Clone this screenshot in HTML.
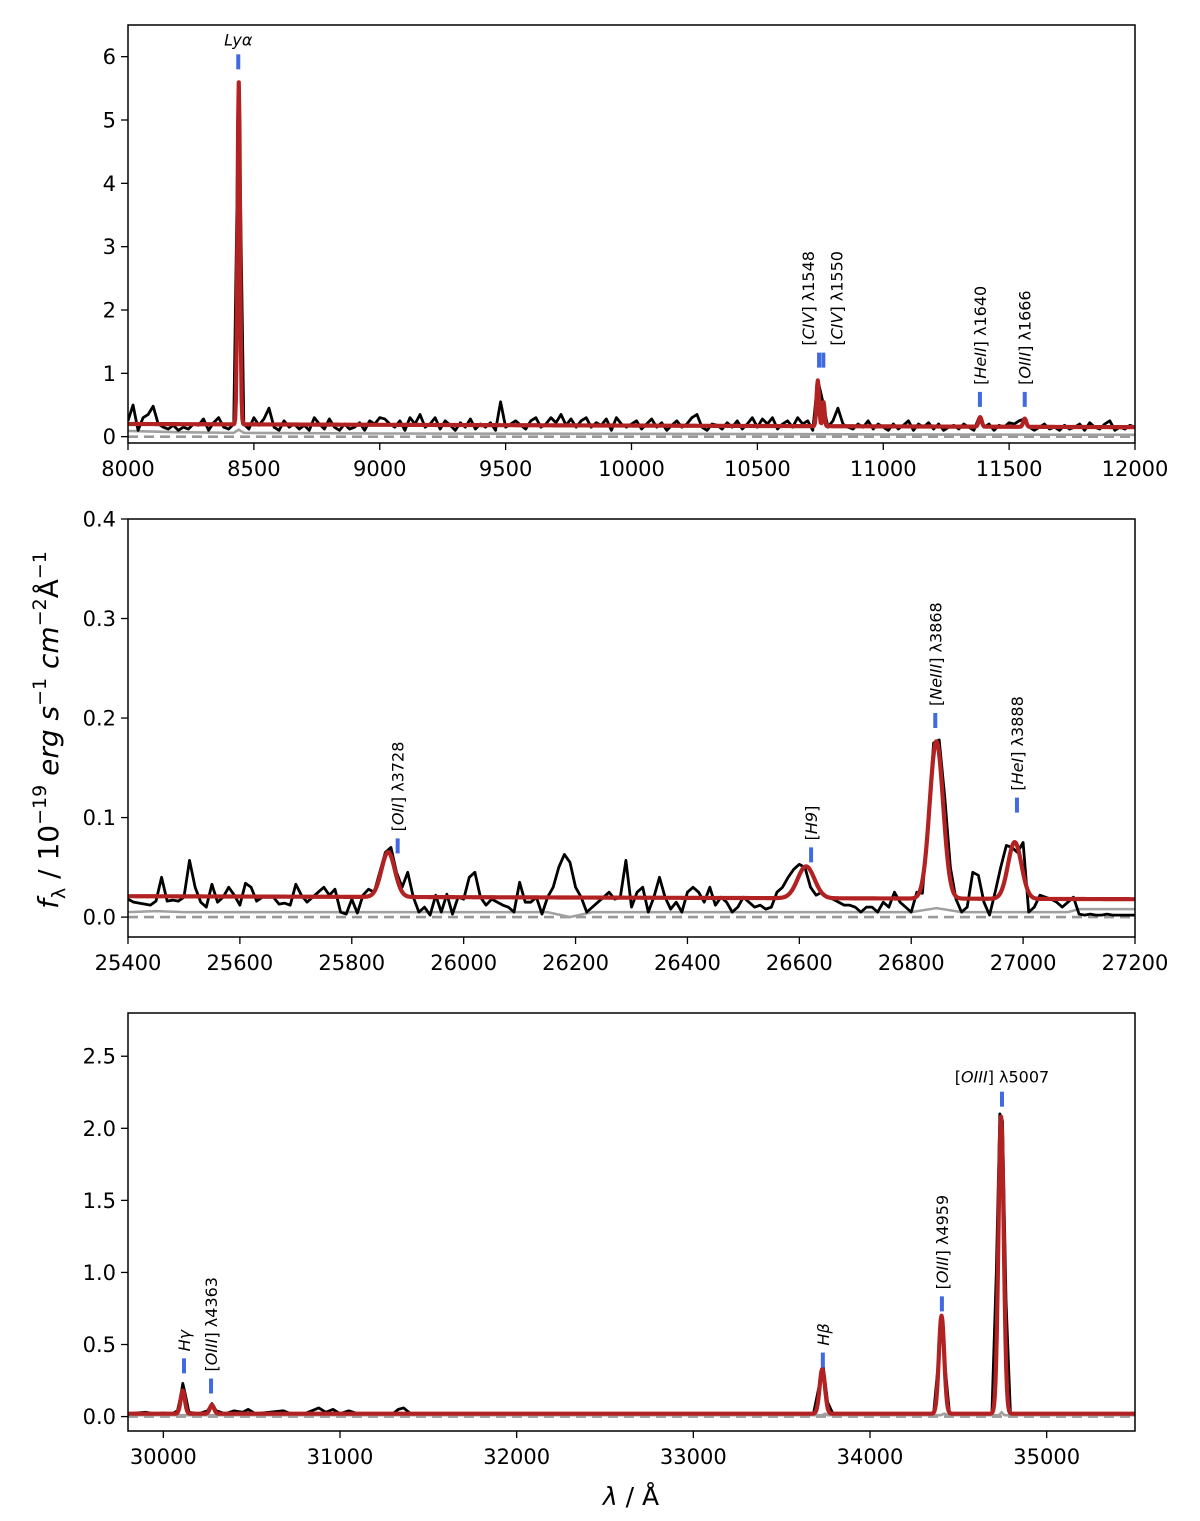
<!DOCTYPE html>
<html><head><meta charset="utf-8"><style>
body{margin:0;background:#fff}
svg{display:block;font-family:"DejaVu Sans","Liberation Sans",sans-serif}
</style></head><body>
<svg id="fig" width="1200" height="1521" viewBox="0 0 1200 1521" xmlns="http://www.w3.org/2000/svg">
<text transform="translate(58,730) rotate(-90)" text-anchor="middle" font-size="28"><tspan font-style="italic">f</tspan><tspan font-size="19" dy="7">λ</tspan><tspan dy="-7"> / 10</tspan><tspan font-size="19" dy="-12">−19</tspan><tspan dy="12" font-style="italic"> erg s</tspan><tspan font-size="19" dy="-12">−1</tspan><tspan dy="12" font-style="italic"> cm</tspan><tspan font-size="19" dy="-12">−2</tspan><tspan dy="12">Å</tspan><tspan font-size="19" dy="-12">−1</tspan></text>
<text x="631" y="1505" text-anchor="middle" font-size="25"><tspan font-style="italic">λ</tspan> / Å</text>
</svg>
<script>
// ---------- Panel 1 data (8000-12000, step 20) ----------
const p1Start = 8000, p1Step = 20;
const p1Flux = [.25,.5,.1,.3,.35,.48,.2,.15,.12,.18,
.1,.15,.12,.2,.18,.28,.1,.22,.3,.15,
.12,.2,5.6,.2,.12,.3,.18,.28,.45,.15,
.1,.25,.15,.2,.12,.18,.1,.3,.2,.12,
.28,.15,.1,.2,.12,.15,.22,.1,.25,.2,
.3,.28,.2,.15,.25,.1,.3,.2,.35,.15,
.2,.3,.12,.25,.18,.1,.22,.15,.28,.12,
.2,.15,.22,.1,.55,.15,.2,.25,.18,.12,
.25,.3,.15,.2,.3,.22,.35,.18,.28,.15,
.25,.3,.15,.22,.18,.28,.1,.3,.2,.15,
.2,.25,.12,.2,.28,.15,.22,.1,.18,.25,
.15,.2,.3,.35,.15,.1,.2,.18,.12,.22,
.15,.25,.12,.2,.3,.15,.28,.2,.3,.12,
.2,.25,.15,.3,.2,.25,.1,.9,.55,.15,
.25,.45,.2,.15,.12,.2,.15,.25,.12,.2,
.15,.1,.2,.12,.18,.25,.1,.2,.15,.22,
.12,.2,.1,.15,.18,.12,.2,.15,.1,.3,
.15,.2,.1,.18,.15,.22,.2,.25,.28,.15,
.1,.15,.2,.12,.15,.1,.18,.12,.15,.2,
.1,.22,.15,.12,.2,.25,.1,.15,.12,.18,.15];
const p1Err = [[8000,.09],[8200,.07],[8420,.06],[8440,.11],[8460,.06],[9000,.05],[10000,.045],[10740,.04],[11000,.035],[12000,.03]];
const p1Cont = [0.2, 0.15];
const p1LineWl = [8440,10740,10763,11385,11562];
const p1LineAmp = [5.4,0.72,0.38,0.15,0.13];
const p1LineSig = [5,5,4,6,6];
// ---------- Panel 2 data (25400-27200, step 10) ----------
const p2Start = 25400, p2Step = 10;
const p2Flux = [.018,.015,.014,.013,.012,.016,.04,.016,.017,.016,
.02,.057,.03,.015,.01,.033,.015,.02,.03,.022,
.012,.034,.03,.016,.02,.02,.02,.013,.014,.012,
.033,.022,.015,.02,.025,.03,.022,.028,.005,.003,
.018,.004,.022,.028,.025,.045,.065,.07,.045,.03,
.045,.02,.005,.01,.002,.022,.005,.023,.003,.02,
.018,.04,.045,.02,.012,.018,.015,.012,.01,.005,
.035,.015,.015,.02,.003,.02,.03,.05,.063,.055,
.03,.02,.005,.01,.015,.02,.025,.018,.02,.057,
.01,.025,.03,.005,.02,.04,.02,.008,.015,.005,
.025,.03,.025,.015,.03,.012,.02,.015,.005,.01,
.02,.015,.01,.012,.008,.01,.025,.03,.04,.048,
.053,.05,.03,.022,.025,.02,.018,.015,.012,.012,
.01,.005,.01,.01,.005,.015,.01,.025,.015,.01,
.005,.025,.024,.095,.175,.178,.12,.05,.018,.005,
.01,.045,.042,.015,.002,.025,.05,.072,.07,.065,
.075,.005,.01,.022,.02,.018,.015,.01,.015,.02,
.003,.002,.003,.002,.002,.003,.002,.002,.002,.002,.002];
const p2Err = [[25400,.005],[25450,.006],[25500,.005],[26150,.005],[26190,.0],[26230,.005],[26800,.005],[26845,.009],[26890,.005],[27080,.005],[27100,.008],[27200,.008]];
const p2Cont = [0.021, 0.018];
const p2LineWl = [25865,26612,26845,26985];
const p2LineAmp = [0.045,0.032,0.158,0.057];
const p2LineSig = [12,15,12,12];
// ---------- Panel 3 data ----------
const p3Flux = [[29800,.02],[29900,.03],[29950,.02],[30000,.025],[30050,.02],[30080,.04],[30100,.15],[30110,.23],[30125,.15],[30145,.03],[30200,.02],[30250,.04],[30275,.09],[30300,.04],[30350,.02],[30400,.04],[30450,.03],[30480,.05],[30520,.02],[30600,.03],[30680,.04],[30720,.02],[30800,.02],[30880,.06],[30920,.03],[30960,.05],[31000,.02],[31050,.04],[31100,.02],[31300,.02],[31330,.05],[31360,.06],[31400,.02],[32000,.02],[33000,.02],[33680,.02],[33710,.2],[33735,.35],[33760,.1],[33790,.02],[34360,.02],[34385,.35],[34405,.7],[34425,.35],[34450,.02],[34690,.02],[34715,1.0],[34735,2.1],[34750,2.05],[34770,.8],[34795,.02],[35500,.02]];
const p3Err = [[29800,.01],[33730,.01],[33745,.02],[33760,.01],[34400,.01],[34420,.02],[34440,.01],[34730,.01],[34745,.03],[34760,.01],[35500,.01]];
const p3Cont = [0.02, 0.02];
const p3LineWl = [30110,30275,33730,34405,34742];
const p3LineAmp = [0.16,0.06,0.31,0.68,2.06];
const p3LineSig = [12,12,15,15,15];
// ---------- tick labels ----------
const p1XTicks = [8000,8500,9000,9500,10000,10500,11000,11500,12000];
const p1YTicks = [0,1,2,3,4,5,6];
const p2XTicks = [25400,25600,25800,26000,26200,26400,26600,26800,27000,27200];
const p2YTicks = [0,0.1,0.2,0.3,0.4];
const p3XTicks = [30000,31000,32000,33000,34000,35000];
const p3YTicks = [0,0.5,1,1.5,2,2.5];
// ---------- annotations ----------
const p1AnnWl = [8438,10745,10762,11384,11562];
const p1AnnY = [5.8,1.09,1.09,0.47,0.47];
const p1AnnText = ['<tspan font-style="italic">Lyα</tspan>','[<tspan font-style="italic">CIV</tspan>] λ1548','[<tspan font-style="italic">CIV</tspan>] λ1550','[<tspan font-style="italic">HeII</tspan>] λ1640','[<tspan font-style="italic">OIII</tspan>] λ1666'];
const p1AnnRot = [false,true,true,true,true];
const p1AnnDx = [0,-5,19,6,6];
const p2AnnWl = [25882,26621,26843,26989];
const p2AnnY = [0.064,0.055,0.19,0.105];
const p2AnnText = ['[<tspan font-style="italic">OII</tspan>] λ3728','[<tspan font-style="italic">H9</tspan>]','[<tspan font-style="italic">NeIII</tspan>] λ3868','[<tspan font-style="italic">HeI</tspan>] λ3888'];
const p2AnnRot = [true,true,true,true];
const p2AnnDx = [6,6,6,6];
const p3AnnWl = [30117,30270,33733,34407,34747];
const p3AnnY = [0.3,0.16,0.34,0.73,2.15];
const p3AnnText = ['<tspan font-style="italic">Hγ</tspan>','[<tspan font-style="italic">OIII</tspan>] λ4363','<tspan font-style="italic">Hβ</tspan>','[<tspan font-style="italic">OIII</tspan>] λ4959','[<tspan font-style="italic">OIII</tspan>] λ5007'];
const p3AnnRot = [true,true,true,true,false];
const p3AnnDx = [6,6,6,6,0];

const NS = 'http://www.w3.org/2000/svg';
const svg = document.getElementById('fig');
function mk(tag, attrs, parent){const e=document.createElementNS(NS,tag);for(const k in attrs)e.setAttribute(k,attrs[k]);(parent||svg).appendChild(e);return e;}

function modelAt(w, xmin, xmax, cont, wl, amp, sig){
  let v = cont[0] + (cont[1]-cont[0])*(w-xmin)/(xmax-xmin);
  for(let i=0;i<wl.length;i++){const d=(w-wl[i])/sig[i];v+=amp[i]*Math.exp(-0.5*d*d);}
  return v;
}

function panel(cfg){
  const {name,top,bottom,xmin,xmax,ymin,ymax} = cfg;
  const L=128,R=1135;
  const X = w => L + (w-xmin)/(xmax-xmin)*(R-L);
  const Y = v => bottom - (v-ymin)/(ymax-ymin)*(bottom-top);
  const g = mk('g',{});
  
  
  const cid = name+'-clip';
  const cp = mk('clipPath',{id:cid},g); mk('rect',{x:L,y:top,width:R-L,height:bottom-top},cp);
  const plot = mk('g',{'clip-path':'url(#'+cid+')'},g);
  const path = pts => pts.map((p,i)=>(i?'L':'M')+X(p[0]).toFixed(2)+' '+Y(p[1]).toFixed(2)).join('');
  const z = mk('path',{d:path([[xmin,0],[xmax,0]]),stroke:'#999',fill:'none','stroke-width':2.6,'stroke-dasharray':'10,6'},plot);
  
  
  const e = mk('path',{d:path(cfg.err),stroke:'#a0a0a0',fill:'none','stroke-width':2.6},plot);
  
  
  const d = mk('path',{d:path(cfg.flux),stroke:'#000',fill:'none','stroke-width':2.8,'stroke-linejoin':'round'},plot);
  
  
  const mp=[]; const n=1400;
  for(let i=0;i<=n;i++){const w=xmin+(xmax-xmin)*i/n;mp.push([w,modelAt(w,xmin,xmax,cfg.cont,cfg.lwl,cfg.lamp,cfg.lsig)]);}
  cfg.lwl.forEach(w=>{for(let k=-3;k<=3;k++){const ww=w+k*cfg.lsig[0]*0.5;mp.push([ww,modelAt(ww,xmin,xmax,cfg.cont,cfg.lwl,cfg.lamp,cfg.lsig)]);}});
  mp.sort((a,b)=>a[0]-b[0]);
  const m = mk('path',{d:path(mp),stroke:'#b22222',fill:'none','stroke-width':4.2,'stroke-linejoin':'round'},plot);
  
  
  const fr = mk('rect',{x:L,y:top,width:R-L,height:bottom-top,fill:'none',stroke:'#000','stroke-width':1.5},g);
  
  
  cfg.xt.forEach(t=>{
    mk('line',{x1:X(t),x2:X(t),y1:bottom,y2:bottom+7,stroke:'#000','stroke-width':1.3},g);
    const tx = mk('text',{x:X(t),y:bottom+33,'text-anchor':'middle','font-size':21},g);
    
    
    tx.textContent = String(t);
  });
  cfg.yt.forEach(t=>{
    mk('line',{x1:L-7,x2:L,y1:Y(t),y2:Y(t),stroke:'#000','stroke-width':1.3},g);
    const tx = mk('text',{x:L-12,y:Y(t)+7.5,'text-anchor':'end','font-size':21},g);
    
    
    tx.textContent = cfg.yfmt(t);
  });
  cfg.aw.forEach((w,i)=>{
    const yb = Y(cfg.ay[i]);
    const tk = mk('line',{x1:X(w),x2:X(w),y1:yb,y2:yb-15,stroke:'#4169e1','stroke-width':4},g);
    
    
    let tx;
    if(cfg.ar[i]){
      tx = mk('text',{transform:'translate('+(X(w)+cfg.adx[i])+','+(yb-22)+') rotate(-90)','text-anchor':'start','font-size':16},g);
    } else {
      tx = mk('text',{x:X(w),y:yb-24,'text-anchor':'middle','font-size':16},g);
    }
    
    
    tx.innerHTML = cfg.at[i];
  });
}
const f1 = p1Flux.map((v,i)=>[p1Start+i*p1Step,v]);
const f2 = p2Flux.map((v,i)=>[p2Start+i*p2Step,v]);
panel({name:'panel-uv',top:25,bottom:443,xmin:8000,xmax:12000,ymin:-0.1,ymax:6.5,flux:f1,err:p1Err,cont:p1Cont,lwl:p1LineWl,lamp:p1LineAmp,lsig:p1LineSig,xt:p1XTicks,yt:p1YTicks,yfmt:t=>String(t),aw:p1AnnWl,ay:p1AnnY,at:p1AnnText,ar:p1AnnRot,adx:p1AnnDx});
panel({name:'panel-optical-blue',top:519,bottom:937,xmin:25400,xmax:27200,ymin:-0.02,ymax:0.4,flux:f2,err:p2Err,cont:p2Cont,lwl:p2LineWl,lamp:p2LineAmp,lsig:p2LineSig,xt:p2XTicks,yt:p2YTicks,yfmt:t=>t.toFixed(1),aw:p2AnnWl,ay:p2AnnY,at:p2AnnText,ar:p2AnnRot,adx:p2AnnDx});
panel({name:'panel-optical-red',top:1013,bottom:1431,xmin:29800,xmax:35500,ymin:-0.1,ymax:2.8,flux:p3Flux,err:p3Err,cont:p3Cont,lwl:p3LineWl,lamp:p3LineAmp,lsig:p3LineSig,xt:p3XTicks,yt:p3YTicks,yfmt:t=>t.toFixed(1),aw:p3AnnWl,ay:p3AnnY,at:p3AnnText,ar:p3AnnRot,adx:p3AnnDx});
</script>
</body></html>
